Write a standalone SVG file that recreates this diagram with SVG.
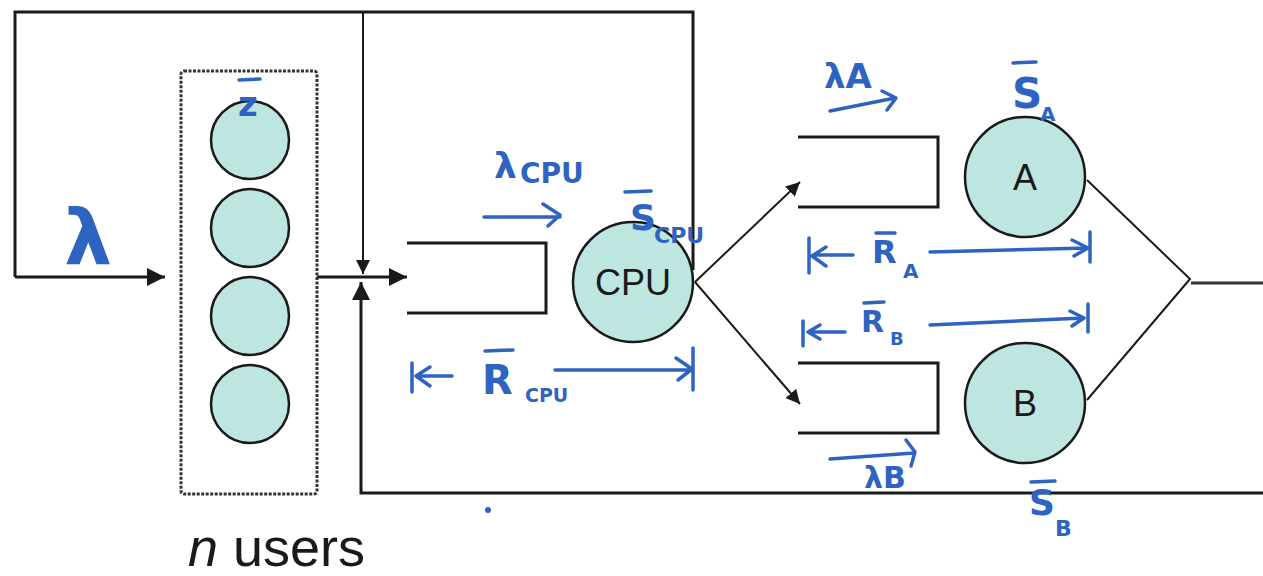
<svg xmlns="http://www.w3.org/2000/svg" width="1263" height="576" viewBox="0 0 1263 576">
<style>
.ln{fill:none;stroke:#1a1a1a;stroke-width:3}
.thin{fill:none;stroke:#1a1a1a;stroke-width:2}
.st{fill:#bde6e1;stroke:#1a1a1a;stroke-width:2.5}
.lbl{font-family:"Liberation Sans",Arial,sans-serif;fill:#1a1a1a}
.hw{font-family:"DejaVu Sans","Liberation Sans",sans-serif;fill:#2e63c1;font-weight:bold}
.bl{fill:none;stroke:#2e63c1;stroke-width:3.5;stroke-linecap:round;stroke-linejoin:round}
</style>
<defs>
<marker id="ah" viewBox="0 0 10 10" refX="10" refY="5" markerWidth="6" markerHeight="6" markerUnits="strokeWidth" orient="auto">
<path d="M0,0 L10,5 L0,10 z" fill="#1a1a1a"/>
</marker>
<marker id="ahs" viewBox="0 0 10 10" refX="10" refY="5" markerWidth="7" markerHeight="7" markerUnits="strokeWidth" orient="auto">
<path d="M0,0 L10,5 L0,10 z" fill="#1a1a1a"/>
</marker>
</defs>
<rect width="1263" height="576" fill="#ffffff"/>

<g id="connectors">
<path class="ln" d="M15,277 V12 H693 V270"/>
<path class="ln" d="M15,277 H165" marker-end="url(#ah)"/>
<path class="thin" d="M363,12 V274" marker-end="url(#ahs)"/>
<path class="ln" d="M317,277 H407" marker-end="url(#ah)"/>
<path class="ln" d="M1263,493 H361 V282" marker-end="url(#ah)"/>
<path class="thin" d="M695,282 L800,182" marker-end="url(#ahs)"/>
<path class="thin" d="M695,282 L800,404" marker-end="url(#ahs)"/>
<path class="thin" d="M1087,180 L1190,279 L1087,400"/>
<path class="ln" d="M1191,283 H1263" style="stroke:#333"/>
</g>

<g id="users">
<rect x="181" y="71" width="136" height="423" rx="3" fill="none" stroke="#333" stroke-width="3" stroke-dasharray="3,1.5"/>
<circle class="st" cx="250" cy="140" r="39"/>
<circle class="st" cx="250" cy="228" r="39"/>
<circle class="st" cx="250" cy="316" r="39"/>
<circle class="st" cx="250" cy="404" r="39"/>
<text class="lbl" x="188" y="566" font-size="54"><tspan font-style="italic">n</tspan> users</text>
</g>

<g id="cpu-queue">
<path class="ln" d="M407,243 H546 V313 H407"/>
</g>
<g id="cpu">
<circle class="st" cx="633" cy="282" r="60"/>
<text class="lbl" x="633" y="295" font-size="36" text-anchor="middle">CPU</text>
</g>

<g id="a-queue">
<path class="ln" d="M798,137 H938 V207 H798"/>
</g>
<g id="a">
<circle class="st" cx="1025" cy="177" r="60"/>
<text class="lbl" x="1025" y="190" font-size="36" text-anchor="middle">A</text>
</g>

<g id="b-queue">
<path class="ln" d="M798,363 H938 V433 H798"/>
</g>
<g id="b">
<circle class="st" cx="1025" cy="403" r="60"/>
<text class="lbl" x="1025" y="416" font-size="36" text-anchor="middle">B</text>
</g>

<g id="annotations">
<text class="hw" x="64" y="264" font-size="76">λ</text>
<line class="bl" x1="239" y1="80" x2="260" y2="79"/>
<text class="hw" x="238" y="116" font-size="34">z</text>

<text class="hw" x="494" y="178" font-size="36">λ</text>
<text class="hw" x="520" y="183" font-size="28">CPU</text>
<path class="bl" d="M484,217 H560 M543,204 L560,215 L548,226"/>

<line class="bl" x1="625" y1="192" x2="651" y2="191"/>
<text class="hw" x="630" y="230" font-size="36">S</text>
<text class="hw" x="654" y="243" font-size="22">CPU</text>

<path class="bl" d="M412,363 V392 M452,376 H416 M430,367 L416,376 L430,386"/>
<line class="bl" x1="485" y1="351" x2="513" y2="350"/>
<text class="hw" x="482" y="394" font-size="40">R</text>
<text class="hw" x="525" y="402" font-size="19">CPU</text>
<path class="bl" d="M555,370 H693 M676,358 L692,369 L678,380 M693,348 V390"/>

<text class="hw" x="824" y="88" font-size="34">λA</text>
<path class="bl" d="M830,111 L895,98 M882,91 L896,98 L887,110"/>

<line class="bl" x1="1013" y1="63" x2="1036" y2="62"/>
<text class="hw" x="1012" y="108" font-size="42">S</text>
<text class="hw" x="1040" y="121" font-size="20">A</text>

<path class="bl" d="M809,238 V273 M853,255 H813 M826,247 L812,256 L826,266"/>
<line class="bl" x1="876" y1="233" x2="895" y2="233"/>
<text class="hw" x="872" y="263" font-size="32">R</text>
<text class="hw" x="903" y="278" font-size="20">A</text>
<path class="bl" d="M930,252 L1088,248 M1072,240 L1088,248 L1074,256 M1090,232 V262"/>

<path class="bl" d="M803,321 V346 M845,332 H808 M820,325 L808,332 L820,339"/>
<line class="bl" x1="864" y1="303" x2="884" y2="302"/>
<text class="hw" x="861" y="332" font-size="30">R</text>
<text class="hw" x="890" y="345" font-size="18">B</text>
<path class="bl" d="M930,325 L1084,318 M1070,311 L1084,318 L1072,326 M1088,304 V332"/>

<path class="bl" d="M830,459 L914,453 M906,440 L915,452 L911,466"/>
<text class="hw" x="864" y="488" font-size="30">λB</text>

<line class="bl" x1="1031" y1="482" x2="1055" y2="481"/>
<text class="hw" x="1029" y="515" font-size="36">S</text>
<text class="hw" x="1055" y="536" font-size="22">B</text>

<circle cx="488" cy="510" r="3" fill="#2e63c1"/>
</g>
</svg>
